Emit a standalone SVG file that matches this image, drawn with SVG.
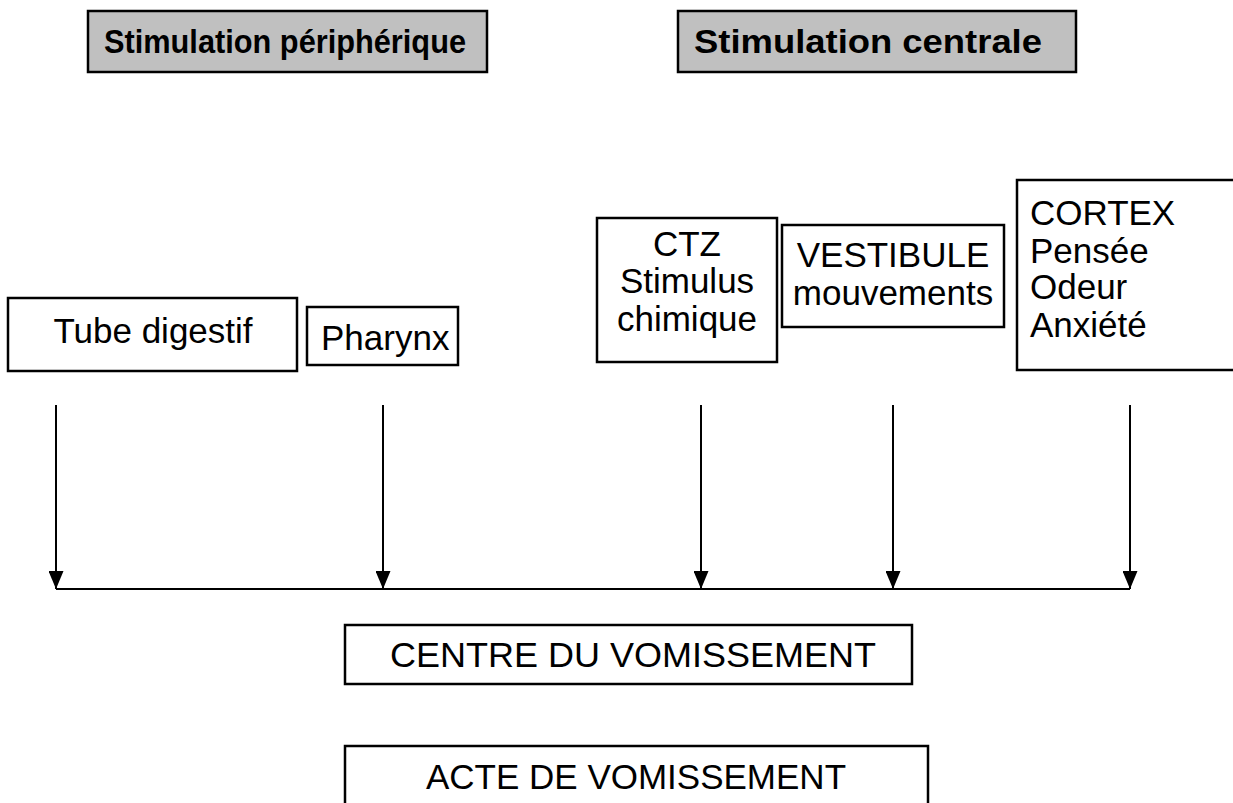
<svg xmlns="http://www.w3.org/2000/svg" width="1233" height="803" viewBox="0 0 1233 803">
<defs>
<style>
.hdr{fill:#c0c0c0;stroke:#000;stroke-width:2.5}
.box{fill:#fff;stroke:#000;stroke-width:2.5}
.tb{font-family:"Liberation Sans",Arial,sans-serif;font-weight:bold;font-size:34px;fill:#000}
.t{font-family:"Liberation Sans",Arial,sans-serif;font-size:35px;fill:#000}
.ln{stroke:#000;stroke-width:2;fill:none}
</style>
<marker id="ah" markerWidth="18" markerHeight="15" refX="18" refY="7.5" orient="auto" markerUnits="userSpaceOnUse" viewBox="0 0 18 15">
<path d="M0,0 L18,7.5 L0,15 Z" fill="#000"/>
</marker>
</defs>
<rect width="1233" height="803" fill="#fff"/>
<g id="stim-peri">
<rect class="hdr" x="88" y="11" width="399" height="61"/>
<text class="tb" x="104" y="53" textLength="362" lengthAdjust="spacingAndGlyphs">Stimulation périphérique</text>
</g>
<g id="stim-cent">
<rect class="hdr" x="678" y="11" width="398" height="61"/>
<text class="tb" x="694" y="53" textLength="348" lengthAdjust="spacingAndGlyphs">Stimulation centrale</text>
</g>
<g id="tube">
<rect class="box" x="8" y="298" width="289" height="73"/>
<text class="t" x="153" y="343" text-anchor="middle">Tube digestif</text>
</g>
<g id="pharynx">
<rect class="box" x="307" y="307" width="151" height="58"/>
<text class="t" x="321" y="350">Pharynx</text>
</g>
<g id="ctz">
<rect class="box" x="597" y="218" width="180" height="144"/>
<text class="t" x="687" y="256" text-anchor="middle">CTZ</text>
<text class="t" x="687" y="293" text-anchor="middle">Stimulus</text>
<text class="t" x="687" y="331" text-anchor="middle">chimique</text>
</g>
<g id="vestibule">
<rect class="box" x="782" y="225" width="222" height="102"/>
<text class="t" x="893" y="267" text-anchor="middle">VESTIBULE</text>
<text class="t" x="893" y="305" text-anchor="middle">mouvements</text>
</g>
<g id="cortex">
<rect class="box" x="1017" y="180" width="220" height="190"/>
<text class="t" x="1030" y="225">CORTEX</text>
<text class="t" x="1030" y="263">Pensée</text>
<text class="t" x="1030" y="299">Odeur</text>
<text class="t" x="1030" y="337">Anxiété</text>
</g>
<g id="connectors">
<line class="ln" x1="56" y1="405" x2="56" y2="589" marker-end="url(#ah)"/>
<line class="ln" x1="383" y1="405" x2="383" y2="589" marker-end="url(#ah)"/>
<line class="ln" x1="701" y1="405" x2="701" y2="589" marker-end="url(#ah)"/>
<line class="ln" x1="893" y1="405" x2="893" y2="589" marker-end="url(#ah)"/>
<line class="ln" x1="1130" y1="405" x2="1130" y2="589" marker-end="url(#ah)"/>
<line class="ln" x1="56" y1="589" x2="1130" y2="589"/>
</g>
<g id="centre">
<rect class="box" x="345" y="625" width="567" height="59"/>
<text class="t" x="390" y="667" textLength="486" lengthAdjust="spacingAndGlyphs">CENTRE DU VOMISSEMENT</text>
</g>
<g id="acte">
<rect class="box" x="345" y="746" width="583" height="70"/>
<text class="t" x="636" y="789" text-anchor="middle">ACTE DE VOMISSEMENT</text>
</g>
</svg>
